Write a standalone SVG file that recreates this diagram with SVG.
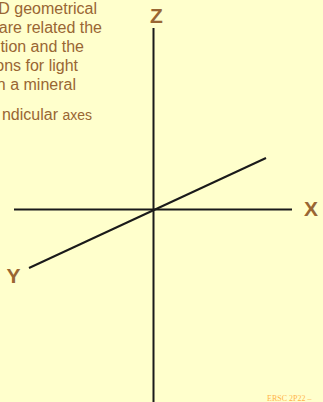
<svg xmlns="http://www.w3.org/2000/svg" width="323" height="402" viewBox="0 0 323 402">
<style>
.body{font-family:"Liberation Sans",Arial,sans-serif;font-size:16px;fill:#996633;text-anchor:end}
.lbl{font-family:"Liberation Sans",Arial,sans-serif;font-size:21px;font-weight:bold;fill:#996633;text-anchor:middle}
.axis{stroke:#1a1a1a;stroke-width:2;fill:none}
.foot{font-family:"Liberation Serif","Times New Roman",serif;font-size:8px;fill:#FFB347}
</style>
<rect width="323" height="402" fill="#FFFFCC"/>
<g id="text">
<text class="body" x="97" y="14">D geometrical</text>
<text class="body" x="102" y="33">are related the</text>
<text class="body" x="84" y="52">tion and the</text>
<text class="body" x="78" y="71">ons for light</text>
<text class="body" x="76" y="90">n a mineral</text>
<text class="body" x="92" y="120">ndicular <tspan font-size="14">axes</tspan></text>
</g>
<g id="connectors">
<line class="axis" x1="153.5" y1="28" x2="153.5" y2="402"/>
<line class="axis" x1="14" y1="209.5" x2="292" y2="209.5"/>
<line class="axis" x1="29" y1="268" x2="266" y2="158"/>
</g>
<g id="Z"><text class="lbl" x="156.5" y="23">Z</text></g>
<g id="X"><text class="lbl" x="311" y="216">X</text></g>
<g id="Y"><text class="lbl" x="13.5" y="283">Y</text></g>
<g id="footer"><text class="foot" x="267" y="401">ERSC 2P22 –</text></g>
</svg>
